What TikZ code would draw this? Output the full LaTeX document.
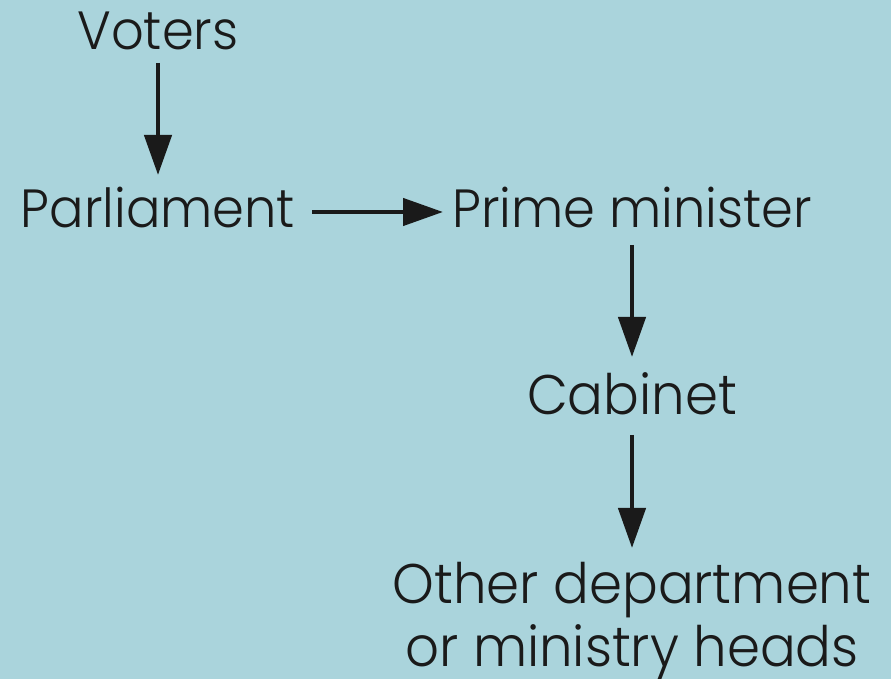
\documentclass[tikz,border=0pt]{standalone}
\usepackage{fontspec}
\setmainfont{Poppins}[UprightFont={* Light}, FakeStretch=0.95]
\usetikzlibrary{arrows.meta}
\definecolor{bgblue}{RGB}{170,212,220}
\definecolor{ink}{RGB}{26,26,26}

\begin{document}
\begin{tikzpicture}[
            x=1bp, y=1bp,
            entity/.style = {
                inner sep=0pt, anchor=base, text=ink,
                font=\fontsize{54}{64}\selectfont
            },
            big/.style = {font=\fontsize{56}{64}\selectfont},
            edge/.style = {
                draw=ink, line width=4.5bp,
                -{Triangle[length=40bp,width=27bp]}
            }
            ]
            % Background
            \fill[bgblue] (0,0) rectangle (891,679);
            \useasboundingbox (0,0) rectangle (891,679);

            % Nodes
            \node[entity] (voters)     at (158,629) {Voters};
            \node[entity] (parliament) at (158,451) {Parliament};
            \node[entity] (prime)      at (632,451) {Prime minister};
            \node[entity, big] (cabinet) at (632,264) {Cabinet};
            % base of a two-line node is its last line
            \node[entity, big, align=center] (heads) at (632,12) {Other department\\or ministry heads};

            % Arrows
            \draw[edge] ([yshift=-13bp]voters.base) -- ([yshift=53bp]parliament.base);
            \draw[edge] ([xshift=17bp,yshift=16bp]parliament.base east) -- ([xshift=-9bp,yshift=16bp]prime.base west);
            \draw[edge] ([yshift=-17bp]prime.base) -- ([yshift=58bp]cabinet.base);
            \draw[edge] ([yshift=-20bp]cabinet.base) -- ([yshift=119bp]heads.base);
        \end{tikzpicture}
\end{document}
